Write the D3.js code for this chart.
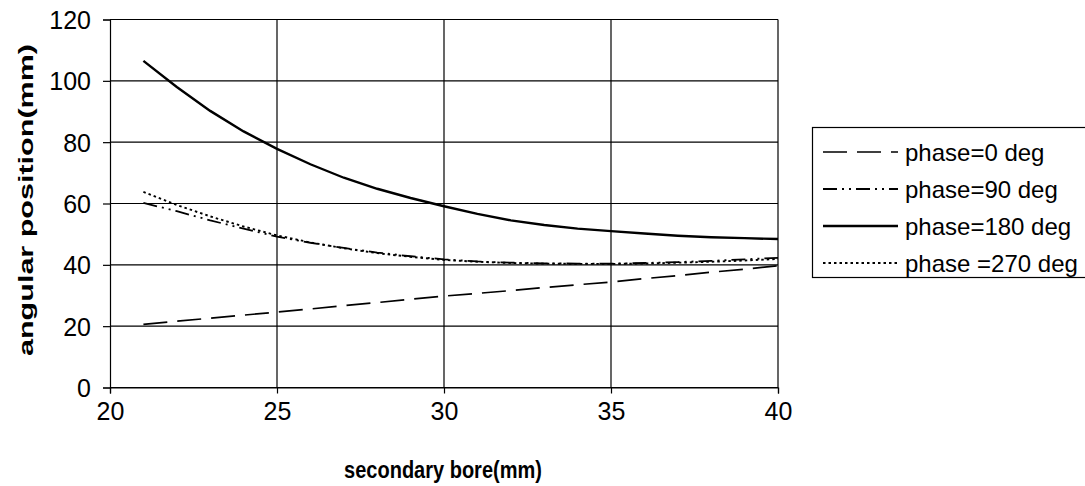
<!DOCTYPE html>
<html>
<head>
<meta charset="utf-8">
<script src="https://cdn.jsdelivr.net/npm/d3@7"></script>
<style>
  body { margin: 0; background: #fff; }
  svg { display: block; font-family: "Liberation Sans", Arial, sans-serif; }
</style>
</head>
<body>
<svg id="viz"></svg>
<script>
/* Data */

const bore = [21, 22, 23, 24, 25, 26, 27, 28, 29, 30, 31, 32, 33, 34, 35, 36, 37, 38, 39, 40];

const phase0 = [20.6, 21.6, 22.6, 23.6, 24.6, 25.6, 26.7, 27.7, 28.8, 29.8,
                30.7, 31.6, 32.6, 33.5, 34.4, 35.5, 36.5, 37.6, 38.6, 39.7];
const phase90 = [60.2, 57.5, 54.5, 51.8, 49.2, 47.2, 45.5, 44.0, 42.8, 41.8,
                 41.1, 40.7, 40.5, 40.4, 40.4, 40.6, 40.9, 41.3, 41.8, 42.3];
const phase180 = [106.5, 98.0, 90.2, 83.5, 77.8, 72.8, 68.4, 64.8, 61.8, 59.1,
                  56.6, 54.5, 53.0, 51.8, 51.0, 50.2, 49.5, 49.0, 48.7, 48.4];
const phase270 = [63.8, 59.5, 55.8, 52.5, 49.6, 47.3, 45.4, 43.8, 42.6, 41.6,
                  41.0, 40.6, 40.4, 40.3, 40.3, 40.4, 40.7, 41.0, 41.4, 41.9];

const seriesNames = ["phase=0 deg", "phase=90 deg", "phase=180 deg", "phase =270 deg"];
const xTicks = [20, 25, 30, 35, 40];
const yTicks = [0, 20, 40, 60, 80, 100, 120];

/* Environment */

const width = 1085;
const height = 486;

const svg = d3.select("#viz")
    .attr("width", width)
    .attr("height", height);

/* Scales */

const x = d3.scaleLinear().domain([20, 40]).range([110, 778]);
const y = d3.scaleLinear().domain([0, 120]).range([387.5, 19.5]);

const styles = [
  {dash: "24,10", w: 1.7},
  {dash: "14,5,2,5,2,5", w: 1.8},
  {dash: null, w: 2.4},
  {dash: "2.5,3", w: 1.9}
];

const series = [phase0, phase90, phase180, phase270].map((vals, i) => ({
  name: seriesNames[i],
  style: styles[i],
  points: bore.map((b, j) => ({x: b, y: vals[j]}))
}));

/* Grid */

const gGrid = svg.append("g");

gGrid.selectAll("line.h")
    .data(yTicks)
    .enter().append("line")
    .attr("x1", x(20)).attr("x2", x(40))
    .attr("y1", d => y(d)).attr("y2", d => y(d))
    .attr("stroke", "#000").attr("stroke-width", 1.2);

gGrid.selectAll("line.v")
    .data(xTicks.slice(1))
    .enter().append("line")
    .attr("x1", d => x(d)).attr("x2", d => x(d))
    .attr("y1", y(120)).attr("y2", y(0))
    .attr("stroke", "#000").attr("stroke-width", 1.2);

/* Axes */

const gX = svg.append("g")
    .attr("transform", `translate(0,${y(0)})`)
    .call(d3.axisBottom(x).tickValues(xTicks).tickSize(6).tickPadding(9));

const gY = svg.append("g")
    .attr("transform", `translate(${x(20)},0)`)
    .call(d3.axisLeft(y).tickValues(yTicks).tickSize(7).tickPadding(12));

[gX, gY].forEach(g => {
  g.attr("font-size", null).attr("font-family", null);
  g.selectAll("path.domain").attr("stroke", "#000").attr("stroke-width", 1.2);
  g.selectAll(".tick line").attr("stroke", "#000").attr("stroke-width", 1.2);
  g.selectAll(".tick text")
      .style("font-size", "25px")
      .attr("fill", "#000");
});

gY.selectAll(".tick text").attr("dy", "0.36em");

/* Axis titles */

svg.append("text")
    .attr("transform", "translate(443,478) scale(1,1.15)")
    .attr("text-anchor", "middle")
    .style("font-size", "20px")
    .attr("font-weight", "bold")
    .text("secondary bore(mm)");

svg.append("text")
    .attr("transform", "translate(33,200) rotate(-90)")
    .attr("text-anchor", "middle")
    .style("font-size", "21px")
    .attr("font-weight", "bold")
    .attr("textLength", 312)
    .attr("lengthAdjust", "spacingAndGlyphs")
    .text("angular position(mm)");

/* Lines */

const line = d3.line()
    .x(d => x(d.x))
    .y(d => y(d.y));

svg.append("g")
    .selectAll("path")
    .data(series)
    .enter().append("path")
    .attr("d", d => line(d.points))
    .attr("fill", "none")
    .attr("stroke", "#000")
    .attr("stroke-width", d => d.style.w)
    .attr("stroke-dasharray", d => d.style.dash);

/* Legend */

const gLegend = svg.append("g");

gLegend.append("rect")
    .attr("x", 812.5)
    .attr("y", 127.5)
    .attr("width", 290)
    .attr("height", 150)
    .attr("fill", "#fff")
    .attr("stroke", "#000")
    .attr("stroke-width", 1.2);

const item = gLegend.selectAll("g.item")
    .data(series)
    .enter().append("g")
    .attr("transform", (d, i) => `translate(823,${152 + i * 37})`);

item.append("line")
    .attr("x1", 0).attr("x2", 75)
    .attr("stroke", "#000")
    .attr("stroke-width", d => d.style.w)
    .attr("stroke-dasharray", d => d.style.dash);

item.append("text")
    .attr("x", 82)
    .attr("dy", "0.36em")
    .style("font-size", "24px")
    .text(d => d.name);
</script>
</body>
</html>
